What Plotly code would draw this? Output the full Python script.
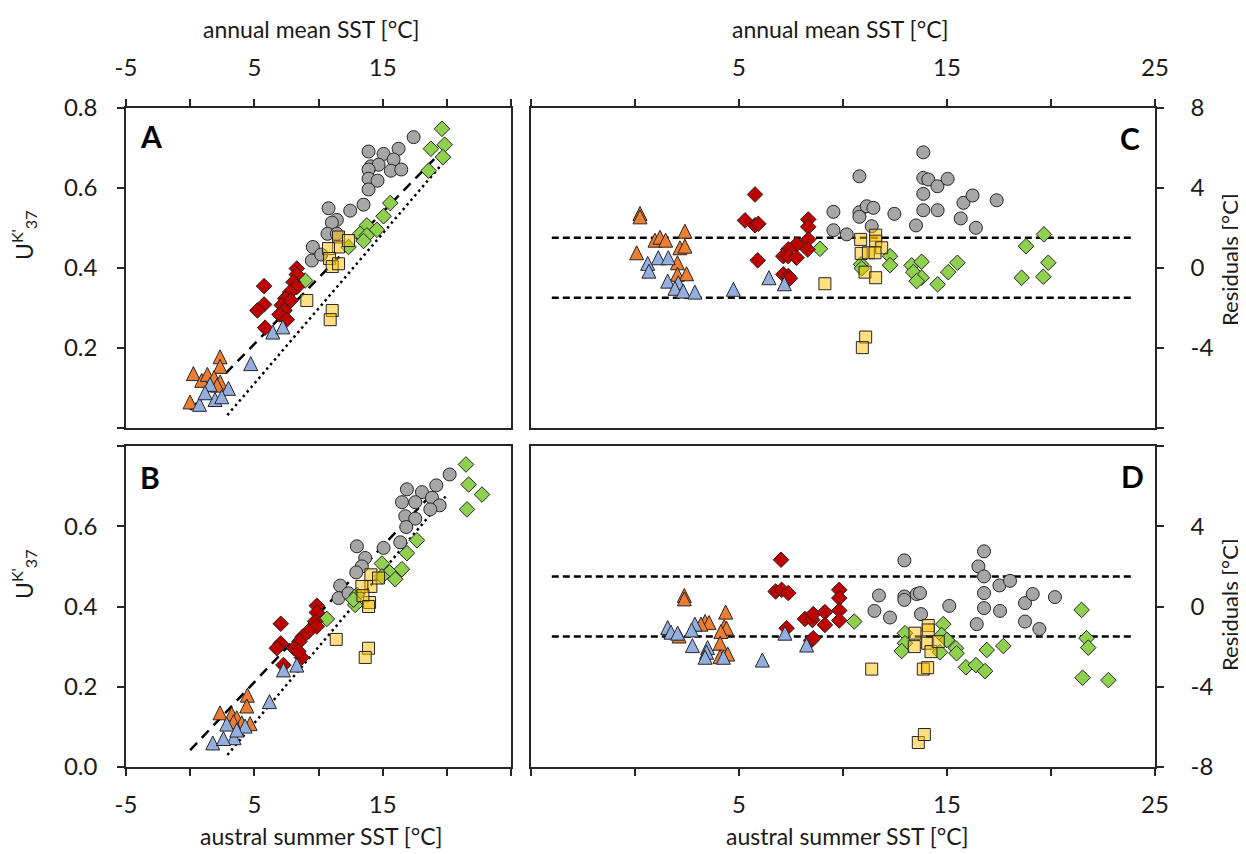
import plotly.graph_objects as go

# ---------------- data ----------------
# Panel A: annual mean SST vs UK'37
A_grey_x = [17.41, 13.90, 15.07, 16.24, 15.85, 14.08, 14.68, 13.90, 15.64, 16.45, 13.90, 14.60, 13.90, 13.51, 12.47, 10.78, 11.43, 11.04, 10.70, 11.43, 9.56, 9.48, 10.21]
A_grey_y = [0.727, 0.691, 0.685, 0.698, 0.671, 0.654, 0.658, 0.646, 0.643, 0.646, 0.623, 0.618, 0.596, 0.558, 0.543, 0.549, 0.520, 0.513, 0.485, 0.485, 0.452, 0.418, 0.433]
A_yellow_x = [11.56, 11.56, 12.34, 10.78, 10.86, 11.07, 11.56, 9.09, 11.07, 10.91]
A_yellow_y = [0.477, 0.452, 0.468, 0.448, 0.423, 0.403, 0.410, 0.318, 0.293, 0.270]
A_green_x = [19.62, 18.76, 19.83, 19.70, 18.58, 15.59, 15.07, 13.77, 13.25, 14.55, 13.77, 13.51, 12.34, 8.96]
A_green_y = [0.748, 0.698, 0.708, 0.677, 0.643, 0.562, 0.529, 0.506, 0.485, 0.495, 0.481, 0.467, 0.452, 0.368]
A_red_x = [8.31, 8.31, 8.05, 5.76, 8.31, 7.79, 5.76, 5.24, 7.40, 7.14, 7.35, 6.96, 7.53, 5.84, 7.84]
A_red_y = [0.398, 0.383, 0.364, 0.354, 0.352, 0.339, 0.308, 0.293, 0.323, 0.306, 0.293, 0.283, 0.270, 0.250, 0.318]
A_blue_x = [6.44, 7.22, 4.72, 1.55, 1.94, 2.98, 0.72, 1.16, 2.46]
A_blue_y = [0.239, 0.252, 0.160, 0.108, 0.070, 0.098, 0.058, 0.087, 0.077]
A_orange_x = [2.33, 2.33, 0.25, 0.90, 1.34, 1.86, 2.33, -0.01, 2.10]
A_orange_y = [0.177, 0.153, 0.135, 0.118, 0.133, 0.125, 0.114, 0.064, 0.106]
A_dash_x = [0.0, 19.5]
A_dash_y = [0.044, 0.688]
A_dot_x = [2.9, 19.63]
A_dot_y = [0.031, 0.660]

# Panel B: austral summer SST vs UK'37
B_grey_x = [20.22, 19.18, 16.89, 18.06, 18.84, 16.50, 17.54, 19.44, 18.71, 16.76, 17.54, 16.84, 12.99, 15.07, 16.37, 13.64, 13.38, 12.94, 11.69, 11.56, 12.34]
B_grey_y = [0.729, 0.702, 0.692, 0.685, 0.671, 0.660, 0.660, 0.652, 0.642, 0.625, 0.619, 0.598, 0.550, 0.546, 0.560, 0.521, 0.500, 0.485, 0.452, 0.421, 0.433]
B_yellow_x = [14.08, 14.08, 13.38, 14.68, 13.98, 13.46, 13.90, 11.38, 13.90, 13.64]
B_yellow_y = [0.479, 0.450, 0.450, 0.471, 0.410, 0.427, 0.400, 0.318, 0.296, 0.273]
B_green_x = [21.49, 21.70, 22.74, 21.57, 17.67, 16.89, 14.94, 16.50, 15.54, 15.98, 14.94, 12.99, 12.86, 10.65, 12.73]
B_green_y = [0.754, 0.704, 0.679, 0.642, 0.565, 0.533, 0.507, 0.493, 0.485, 0.468, 0.475, 0.429, 0.404, 0.369, 0.417]
B_red_x = [9.87, 9.87, 9.74, 7.06, 9.87, 9.22, 8.78, 8.52, 7.06, 6.75, 8.10, 8.70, 7.27, 8.44]
B_red_y = [0.402, 0.385, 0.363, 0.357, 0.350, 0.338, 0.325, 0.313, 0.308, 0.296, 0.296, 0.273, 0.254, 0.288]
B_blue_x = [7.27, 8.31, 6.18, 2.85, 4.28, 3.42, 1.76, 2.59, 3.63]
B_blue_y = [0.242, 0.254, 0.163, 0.107, 0.102, 0.073, 0.060, 0.071, 0.092]
B_orange_x = [4.46, 4.41, 2.33, 3.24, 3.63, 4.02, 4.67, 3.37]
B_orange_y = [0.179, 0.152, 0.135, 0.132, 0.123, 0.110, 0.108, 0.113]
B_dash_x = [0.0, 20.0]
B_dash_y = [0.042, 0.720]
B_dot_x = [2.9, 19.9]
B_dot_y = [0.030, 0.674]

# Panel C: annual mean SST vs residuals
C_grey_x = [13.86, 10.79, 13.86, 14.10, 14.54, 13.86, 13.86, 14.55, 9.54, 10.79, 10.79, 11.14, 11.46, 12.47, 11.38, 13.51, 9.54, 10.18, 15.03, 15.79, 16.23, 17.39, 15.66, 16.39]
C_grey_y = [5.78, 4.58, 4.50, 4.42, 4.08, 3.70, 2.88, 2.88, 2.80, 2.78, 2.55, 3.08, 3.00, 2.70, 2.08, 2.12, 1.88, 1.67, 4.45, 3.25, 3.62, 3.38, 2.47, 2.00]
C_yellow_x = [10.85, 11.57, 11.57, 11.86, 10.87, 11.22, 11.54, 11.06, 11.57, 9.13, 11.09, 10.93]
C_yellow_y = [1.42, 1.63, 1.33, 1.00, 0.72, 0.75, 0.75, -0.22, -0.50, -0.80, -3.47, -4.00]
C_green_x = [8.89, 10.87, 10.90, 12.26, 12.26, 13.30, 13.78, 13.38, 13.78, 13.54, 14.55, 15.06, 15.50, 18.80, 19.66, 18.59, 19.63, 19.87]
C_green_y = [0.95, 0.17, -0.03, 0.58, 0.13, 0.12, 0.30, -0.22, -0.50, -0.67, -0.83, -0.22, 0.25, 1.08, 1.67, -0.50, -0.45, 0.25]
C_red_x = [5.77, 5.29, 5.77, 5.93, 5.90, 8.33, 8.33, 8.33, 7.77, 7.37, 7.13, 7.37, 7.77, 8.30, 7.13, 7.37, 7.45]
C_red_y = [3.67, 2.37, 2.13, 2.20, 0.37, 2.42, 2.05, 1.42, 1.17, 0.92, 0.58, 0.58, 0.50, 0.92, -0.33, -0.42, -0.53]
C_blue_x = [1.12, 1.60, 0.61, 0.67, 1.57, 2.08, 1.92, 2.32, 2.88, 4.73, 6.44, 7.18]
C_blue_y = [0.50, 0.50, 0.22, -0.17, -0.67, -0.75, -1.03, -1.17, -1.22, -1.08, -0.50, -0.80]
C_orange_x = [0.24, 0.24, 0.96, 1.20, 1.47, 2.40, 2.16, 2.40, 0.08, 2.04, 2.04, 2.48]
C_orange_y = [2.72, 2.55, 1.38, 1.53, 1.38, 1.83, 1.00, 1.08, 0.75, 0.25, -0.33, -0.30]

# Panel D: austral summer SST vs residuals
D_grey_x = [12.95, 11.73, 12.95, 12.95, 13.54, 13.70, 11.51, 12.26, 13.75, 15.11, 16.78, 16.51, 16.78, 17.52, 18.03, 16.78, 16.78, 17.55, 16.43, 18.75, 19.12, 18.75, 19.44, 20.19]
D_grey_y = [2.30, 0.55, 0.50, 0.33, 0.62, 0.67, -0.22, -0.55, -0.38, 0.03, 2.75, 2.00, 1.50, 1.05, 1.28, 0.67, -0.08, -0.22, -0.88, 0.17, 0.62, -0.75, -1.12, 0.47]
D_yellow_x = [11.38, 13.46, 14.10, 14.10, 13.43, 14.07, 14.23, 14.58, 13.86, 14.07, 13.62, 13.91]
D_yellow_y = [-3.12, -1.33, -0.95, -1.17, -2.00, -1.83, -2.25, -1.75, -3.12, -3.05, -6.78, -6.38]
D_green_x = [10.54, 12.98, 12.98, 12.82, 14.82, 14.74, 15.00, 14.66, 15.43, 15.46, 15.91, 16.39, 16.83, 16.91, 17.71, 21.47, 21.71, 21.79, 21.52, 22.76]
D_green_y = [-0.75, -1.33, -1.83, -2.22, -0.88, -1.42, -1.67, -2.28, -2.08, -2.33, -3.03, -2.92, -3.22, -2.17, -1.97, -0.17, -1.58, -2.05, -3.55, -3.67]
D_red_x = [7.02, 6.76, 7.05, 7.37, 7.29, 8.17, 8.53, 8.57, 9.13, 9.13, 9.82, 9.82, 9.82, 9.82, 8.46, 8.57]
D_red_y = [2.33, 0.75, 0.83, 0.67, -1.08, -0.62, -0.67, -0.38, -0.28, -0.92, 0.83, 0.42, -0.20, -0.70, -1.70, -1.58]
D_blue_x = [1.57, 1.73, 2.88, 2.72, 2.76, 3.49, 3.44, 3.37, 4.25, 6.12, 7.21, 8.25, 2.05]
D_blue_y = [-1.05, -1.28, -0.88, -1.17, -1.95, -2.05, -2.28, -2.53, -2.53, -2.67, -1.33, -1.92, -1.33]
D_orange_x = [2.37, 2.37, 4.36, 3.37, 3.56, 3.17, 4.29, 4.40, 4.13, 2.12, 4.09, 4.46, 4.09]
D_orange_y = [0.55, 0.38, -0.28, -0.75, -0.80, -0.88, -1.00, -1.08, -1.25, -1.47, -1.83, -2.37, -2.50]

# residual band (+/- 1.5 degC) drawn in C and D
band_x = [-4, 24]
band_hi = [1.5, 1.5]
band_lo = [-1.5, -1.5]

# axis ticks
sst_ticks = [-5, 0, 5, 10, 15, 20, 25]
left_sst_text = ["-5", "", "5", "", "15", "", ""]
right_sst_text = ["", "", "5", "", "15", "", "25"]
uk_ticks = [0, 0.2, 0.4, 0.6, 0.8]
A_uk_text = ["", "0.2", "0.4", "0.6", "0.8"]
B_uk_text = ["0.0", "0.2", "0.4", "0.6", ""]
res_ticks = [-8, -4, 0, 4, 8]
C_res_text = ["", "-4", "0", "4", "8"]
D_res_text = ["-8", "-4", "0", "4", ""]

# ---------------- figure ----------------
# the page body has an 8px margin, so the figure is drawn 8px smaller and
# every pixel position below is given in window coordinates
OFF = 8
W, H = 1246 - OFF, 854 - OFF
FONT = "Lato"
EDGE = "#262626"
TXT = "#1a1a1a"


def fx(p):
    return (p - OFF) / W


def fy(p):
    return 1 - (p - OFF) / H


# near-equilateral triangle: a down-arrow turned 180 deg and shifted so that
# it is centred on its data point
TRI = 14
styles = {
    "grey": dict(symbol="circle", color="#A6A6A6", size=13),
    "green": dict(symbol="diamond", color="#8FD14F", size=12),
    "red": dict(symbol="diamond", color="#C00000", size=12),
    "orange": dict(symbol="arrow-down", color="#ED7D31", size=TRI, angle=180, standoff=TRI / 2),
    "blue": dict(symbol="arrow-down", color="#93AEDF", size=TRI, angle=180, standoff=TRI / 2),
    "yellow": dict(symbol="square", color="rgba(255,192,0,0.5)", size=12),
}

panels = {
    "A": ("x", "y", {"grey": (A_grey_x, A_grey_y), "green": (A_green_x, A_green_y), "red": (A_red_x, A_red_y),
                     "orange": (A_orange_x, A_orange_y), "blue": (A_blue_x, A_blue_y), "yellow": (A_yellow_x, A_yellow_y)}),
    "B": ("x2", "y2", {"grey": (B_grey_x, B_grey_y), "green": (B_green_x, B_green_y), "red": (B_red_x, B_red_y),
                       "orange": (B_orange_x, B_orange_y), "blue": (B_blue_x, B_blue_y), "yellow": (B_yellow_x, B_yellow_y)}),
    "C": ("x3", "y3", {"grey": (C_grey_x, C_grey_y), "green": (C_green_x, C_green_y), "red": (C_red_x, C_red_y),
                       "orange": (C_orange_x, C_orange_y), "blue": (C_blue_x, C_blue_y), "yellow": (C_yellow_x, C_yellow_y)}),
    "D": ("x4", "y4", {"grey": (D_grey_x, D_grey_y), "green": (D_green_x, D_green_y), "red": (D_red_x, D_red_y),
                       "orange": (D_orange_x, D_orange_y), "blue": (D_blue_x, D_blue_y), "yellow": (D_yellow_x, D_yellow_y)}),
}

fig = go.Figure()

line_specs = [
    ("x", "y", A_dash_x, A_dash_y, "10px,7px"),
    ("x", "y", A_dot_x, A_dot_y, "2.5px,3.5px"),
    ("x2", "y2", B_dash_x, B_dash_y, "10px,7px"),
    ("x2", "y2", B_dot_x, B_dot_y, "2.5px,3.5px"),
    ("x3", "y3", band_x, band_hi, "7px,4px"),
    ("x3", "y3", band_x, band_lo, "7px,4px"),
    ("x4", "y4", band_x, band_hi, "7px,4px"),
    ("x4", "y4", band_x, band_lo, "7px,4px"),
]
for xa, ya, lx, ly, dash in line_specs:
    fig.add_trace(go.Scatter(x=lx, y=ly, mode="lines", xaxis=xa, yaxis=ya,
                             line=dict(color="#000000", width=2.5, dash=dash),
                             showlegend=False, hoverinfo="skip"))

order = ["grey", "green", "red", "orange", "blue", "yellow"]
for key, (xa, ya, data) in panels.items():
    for g in order:
        gx, gy = data[g]
        st = styles[g]
        mk = dict(symbol=st["symbol"], size=st["size"], color=st["color"],
                  line=dict(color=EDGE, width=1))
        if "standoff" in st:
            mk["standoff"] = st["standoff"]
            mk["angle"] = st["angle"]
        fig.add_trace(go.Scatter(x=gx, y=gy, mode="markers", xaxis=xa, yaxis=ya,
                                 showlegend=False, marker=mk))

axis_common = dict(showline=True, linecolor=EDGE, linewidth=1.5, mirror=True,
                   ticks="outside", ticklen=7, tickwidth=1.5, tickcolor=EDGE,
                   showgrid=False, zeroline=False, tickmode="array", automargin=False,
                   tickfont=dict(family=FONT, size=24, color=TXT), fixedrange=True)

xl = [fx(126), fx(511)]
xr = [fx(531), fx(1155)]
yt = [fy(427.5), fy(108)]
yb = [fy(767), fy(446)]

fig.update_layout(
    width=W, height=H, template="none",
    margin=dict(l=0, r=0, t=0, b=0),
    paper_bgcolor="white", plot_bgcolor="white",
    font=dict(family=FONT, color=TXT),
    showlegend=False,
    xaxis=dict(domain=xl, anchor="y", side="top", range=[-5, 25], tickvals=sst_ticks,
               ticktext=left_sst_text, ticklabelstandoff=14, **axis_common),
    yaxis=dict(domain=yt, anchor="x", range=[0, 0.8], tickvals=uk_ticks,
               ticktext=A_uk_text, ticklabelstandoff=15, **axis_common),
    xaxis2=dict(domain=xl, anchor="y2", side="bottom", range=[-5, 25], tickvals=sst_ticks,
                ticktext=left_sst_text, ticklabelstandoff=8, **axis_common),
    yaxis2=dict(domain=yb, anchor="x2", range=[0, 0.8], tickvals=uk_ticks,
                ticktext=B_uk_text, ticklabelstandoff=15, **axis_common),
    xaxis3=dict(domain=xr, anchor="y3", side="top", range=[-5, 25], tickvals=sst_ticks,
                ticktext=right_sst_text, ticklabelstandoff=14, **axis_common),
    yaxis3=dict(domain=yt, anchor="x3", side="right", range=[-8, 8], tickvals=res_ticks,
                ticktext=C_res_text, ticklabelstandoff=22, **axis_common),
    xaxis4=dict(domain=xr, anchor="y4", side="bottom", range=[-5, 25], tickvals=sst_ticks,
                ticktext=right_sst_text, ticklabelstandoff=8, **axis_common),
    yaxis4=dict(domain=yb, anchor="x4", side="right", range=[-8, 8], tickvals=res_ticks,
                ticktext=D_res_text, ticklabelstandoff=22, **axis_common),
)


def ann(text, x, y, size, angle=0, bold=False):
    fig.add_annotation(text=f"<b>{text}</b>" if bold else text,
                       x=fx(x), y=fy(y), xref="paper", yref="paper",
                       showarrow=False, textangle=angle, xanchor="center", yanchor="middle",
                       font=dict(family=FONT, size=size, color="#000000" if bold else TXT))


ann("annual mean SST [°C]", 311, 29, 23)
ann("annual mean SST [°C]", 840, 29, 23)
ann("austral summer SST [°C]", 321, 836, 23)
ann("austral summer SST [°C]", 848, 836, 23)
ann("U<sup>K'</sup><sub>37</sub>", 23, 235, 23, angle=-90)
ann("U<sup>K'</sup><sub>37</sub>", 23, 574, 23, angle=-90)
ann("Residuals [°C]", 1229, 260, 22, angle=-90)
ann("Residuals [°C]", 1229, 605, 22, angle=-90)
ann("A", 151, 136, 30, bold=True)
ann("B", 150, 477, 30, bold=True)
ann("C", 1130, 138, 30, bold=True)
ann("D", 1132, 476, 30, bold=True)

fig.write_html("out.html")
